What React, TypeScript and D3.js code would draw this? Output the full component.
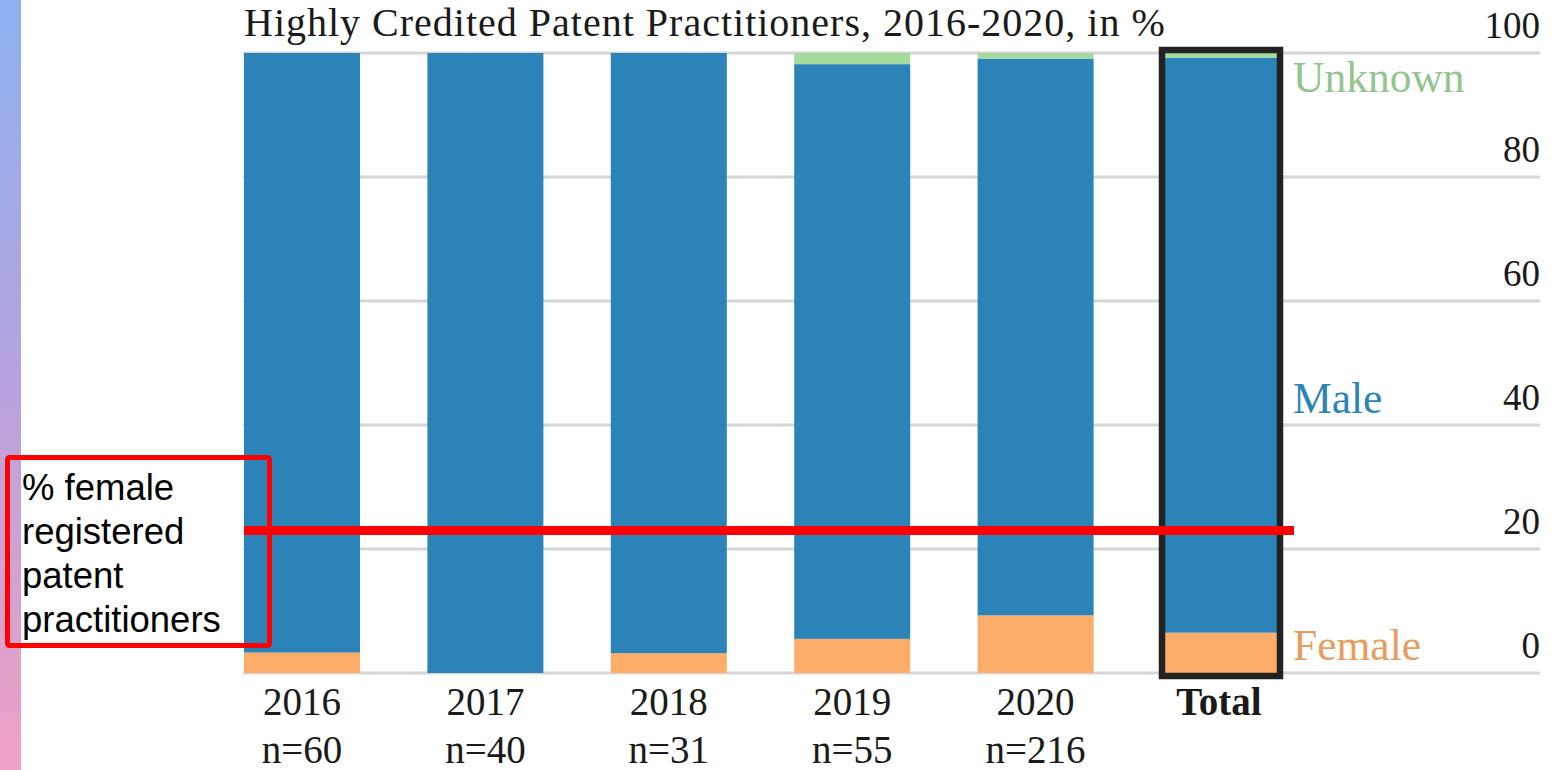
import React from 'react';
import * as d3 from 'd3';

// values, in %
const categories = ['2016', '2017', '2018', '2019', '2020', 'Total'];
const sampleSizes = ['n=60', 'n=40', 'n=31', 'n=55', 'n=216', ''];
const femaleShare = [3.3, 0, 3.2, 5.5, 9.3, 6.5];
const maleShare = [96.7, 100, 96.8, 92.7, 89.8, 92.75];
const unknownShare = [0, 0, 0, 1.8, 0.9, 0.75];
const yTicks = [0, 20, 40, 60, 80, 100];
const femaleRegistered = 23;

const seriesKeys = ['female', 'male', 'unknown'];
const seriesLabels = ['Female', 'Male', 'Unknown'];
const seriesLabelAt = [2.1, 41.9, 93.7];

const W = 1554;
const H = 770;
const serif = '"Liberation Serif", "Times New Roman", serif';

export default function App() {
	const rows = categories.map((c, i) => ({
		cat: c,
		female: femaleShare[i],
		male: maleShare[i],
		unknown: unknownShare[i],
	}));

	const stacked = d3.stack<any>().keys(seriesKeys)(rows);

	const x = d3.scaleBand().domain(categories).range([244, 1277]).paddingInner(0.3675).paddingOuter(0);
	const y = d3.scaleLinear().domain([0, 100]).range([673, 53]);

	const fills: Record<string, string> = { female: '#fdad69', male: '#2b83b7', unknown: '#a6dba0' };
	const textColors: Record<string, string> = { female: '#e89d60', male: '#2b83b7', unknown: '#94c48f' };

	const totalX = x('Total') as number;
	const bw = x.bandwidth();

	return (
		<div style={{ position: 'absolute', left: 0, top: 0 }}>
			<svg width={W} height={H} style={{ display: 'block', background: '#fff' }}>
				<defs>
					<linearGradient id="strip" x1="0" y1="0" x2="0" y2="1">
						<stop offset="0" stopColor="#8db1ef" />
						<stop offset="0.5" stopColor="#b6a2dd" />
						<stop offset="1" stopColor="#f0a1c5" />
					</linearGradient>
				</defs>
				<rect x={0} y={0} width={21} height={H} fill="url(#strip)" />

				{/* gridlines + right-hand tick labels */}
				{yTicks.map((t) => (
					<g key={t}>
						<line x1={243} x2={1540} y1={y(t)} y2={y(t)} stroke="#d6d6d6" strokeWidth={3} />
						<text x={1540} y={y(t) - 15} textAnchor="end" fontFamily={serif} fontSize={37} fill="#1a1a1a">
							{t}
						</text>
					</g>
				))}

				<text x={244} y={35.5} fontFamily={serif} fontSize={40} letterSpacing={1} fill="#1a1a1a">
					Highly Credited Patent Practitioners, 2016-2020, in %
				</text>

				{stacked.map((s) => (
					<g key={s.key}>
						{s.map((d: any) =>
							d[1] - d[0] > 0 ? (
								<rect
									key={d.data.cat}
									x={x(d.data.cat)}
									width={bw}
									y={y(d[1])}
									height={y(d[0]) - y(d[1])}
									fill={fills[s.key]}
								/>
							) : null
						)}
					</g>
				))}

				{/* frame around the total bar */}
				<rect
					x={totalX + 1}
					y={y(100) - 3}
					width={bw + 2}
					height={y(0) - y(100) + 6}
					fill="none"
					stroke="#222"
					strokeWidth={6.5}
				/>

				{seriesKeys.map((k, i) => (
					<text
						key={k}
						x={1293}
						y={y(seriesLabelAt[i])}
						fontFamily={serif}
						fontSize={43.5}
						fill={textColors[k]}
					>
						{seriesLabels[i]}
					</text>
				))}

				{categories.map((c, i) => (
					<g key={c}>
						<text
							x={(x(c) as number) + bw / 2}
							y={715}
							textAnchor="middle"
							fontFamily={serif}
							fontSize={39}
							fontWeight={c === 'Total' ? 'bold' : 'normal'}
							fill="#1a1a1a"
						>
							{c}
						</text>
						<text x={(x(c) as number) + bw / 2} y={763} textAnchor="middle" fontFamily={serif} fontSize={39} fill="#1a1a1a">
							{sampleSizes[i]}
						</text>
					</g>
				))}

				{/* annotation: share of female registered practitioners */}
				<line x1={244} x2={1294} y1={y(femaleRegistered)} y2={y(femaleRegistered)} stroke="#ff0000" strokeWidth={9} />
				<rect x={7.5} y={457.5} width={262} height={188} fill="none" stroke="#ff0000" strokeWidth={5} rx={2} />
				{['% female', 'registered', 'patent', 'practitioners'].map((line, i) => (
					<text key={line} x={22} y={500 + i * 44} fontFamily='"Liberation Sans", Arial, sans-serif' fontSize={36.5} fill="#000">
						{line}
					</text>
				))}
			</svg>
		</div>
	);
}
